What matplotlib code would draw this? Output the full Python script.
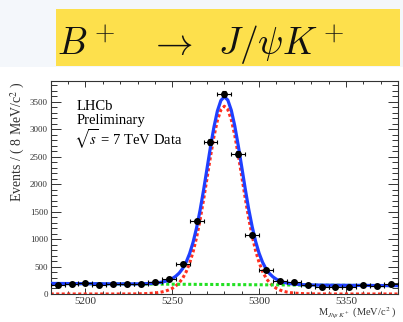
import numpy as np
import matplotlib.pyplot as plt
from matplotlib.patches import Rectangle

# B+ -> J/psi K+ mass spectrum, 8 MeV bins
bin_centres = [5184, 5192, 5200, 5208, 5216, 5224, 5232, 5240, 5248, 5256,
               5264, 5272, 5280, 5288, 5296, 5304, 5312, 5320, 5328, 5336,
               5344, 5352, 5360, 5368, 5376]
counts = [170, 183, 194, 157, 183, 178, 178, 212, 265, 549,
          1328, 2762, 3646, 2548, 1079, 444, 230, 222, 165, 134,
          134, 134, 170, 141, 183]

# fit components
curve_mass = [5180, 5190, 5200, 5210, 5220, 5230, 5236,
              5240, 5242, 5244, 5246, 5248, 5250, 5252, 5254, 5256, 5258,
              5260, 5262, 5264, 5266, 5268, 5270, 5272, 5274, 5276, 5278,
              5280, 5282, 5284, 5286, 5288, 5290, 5292, 5294, 5296, 5298,
              5300, 5302, 5304, 5306, 5308, 5310, 5312, 5314, 5316, 5318,
              5320, 5324, 5330, 5340, 5350, 5360, 5370, 5380]
signal = [0, 0, 0, 0, 0, 2, 8,
          18, 26, 37, 52, 74, 103, 145, 204, 287, 403,
          560, 767, 1029, 1346, 1711, 2105, 2502, 2866, 3161, 3353,
          3420, 3360, 3175, 2890, 2535, 2145, 1750, 1380, 1060, 790,
          575, 410, 290, 205, 145, 102, 72, 50, 35, 25,
          17, 8, 2, 0, 0, 0, 0, 0]
background = [192, 190, 188, 186, 184, 182, 181,
              180, 180, 179, 179, 178, 178, 178, 177, 177, 176,
              176, 176, 175, 175, 174, 174, 174, 173, 173, 172,
              172, 172, 171, 171, 170, 170, 170, 169, 169, 168,
              168, 168, 167, 167, 166, 166, 166, 165, 165, 164,
              164, 163, 162, 160, 158, 156, 154, 152]

x_ticks = [5200, 5250, 5300, 5350]
y_ticks = [0, 500, 1000, 1500, 2000, 2500, 3000, 3500]

SERIF = "Liberation Serif"

fig = plt.figure(figsize=(4.03, 3.22), dpi=100, facecolor="white")

# title banner
fig.patches.append(Rectangle((0, 0.793), 1, 0.207, transform=fig.transFigure,
                             facecolor="#f4f7fb", edgecolor="none", zorder=0))
fig.patches.append(Rectangle((0.139, 0.796), 0.854, 0.175, transform=fig.transFigure,
                             facecolor="#fde04c", edgecolor="none", zorder=1))
fig.text(0.142, 0.829, r"$B^+\;\;\;\rightarrow\;\;J/\psi K^+$",
         fontsize=27, math_fontfamily="cm", ha="left", va="baseline", color="#111111")

ax = fig.add_axes([0.1258, 0.0870, 0.8618, 0.6615])

total = np.array(signal) + np.array(background)
ax.plot(curve_mass, signal, color="#ff3020", lw=2.2, linestyle=(0, (1, 0.8)), zorder=2)
ax.plot(curve_mass, background, color="#22e022", lw=2.2, linestyle=(0, (1, 0.8)), zorder=2)
ax.plot(curve_mass, total, color="#1f3fff", lw=2.3, zorder=3)

ax.errorbar(bin_centres, counts, xerr=4, yerr=np.sqrt(counts), fmt="o",
            color="black", markersize=4, elinewidth=0.8, capsize=1.5,
            capthick=0.8, zorder=4)

ax.set_xlim(5180, 5380)
ax.set_ylim(0, 3880)
ax.set_xticks(x_ticks)
ax.set_xticks(range(5180, 5381, 10), minor=True)
ax.set_yticks(y_ticks)
ax.set_yticks(range(0, 3881, 100), minor=True)

for s in ax.spines.values():
    s.set_color("#333333")
    s.set_linewidth(0.8)

ax.tick_params(axis="both", which="both", direction="in", top=True, right=True,
               color="#333333", width=0.7)
ax.tick_params(axis="x", which="major", length=4.5, labelsize=8, pad=2)
ax.tick_params(axis="x", which="minor", length=2.5)
ax.tick_params(axis="y", which="major", length=7.5, labelsize=6.5, pad=2)
ax.tick_params(axis="y", which="minor", length=4)
for lab in ax.get_xticklabels() + ax.get_yticklabels():
    lab.set_fontfamily(SERIF)
    lab.set_color("#333333")

ax.set_xlabel(r"M$_{J/\psi\ K^+}$ (MeV/c$^2$ )", fontfamily=SERIF,
              math_fontfamily="stix", fontsize=7.5, color="#333333",
              ha="right", va="baseline")
ax.xaxis.set_label_coords(0.995, -0.103)
ax.set_ylabel(r"Events / ( 8 MeV/c$^2$ )", fontfamily=SERIF,
              math_fontfamily="stix", fontsize=10, color="#333333",
              ha="right", va="center")
ax.yaxis.set_label_coords(-0.093, 1.0)

ax.text(0.075, 0.864, "LHCb", transform=ax.transAxes, fontfamily=SERIF,
        fontsize=10.5, va="baseline")
ax.text(0.075, 0.798, "Preliminary", transform=ax.transAxes, fontfamily=SERIF,
        fontsize=10.5, va="baseline")
ax.text(0.068, 0.70, r"$\sqrt{s}$ = 7 TeV Data", transform=ax.transAxes,
        fontfamily=SERIF, math_fontfamily="stix", fontsize=10.5, va="baseline")

fig.savefig("out.png", dpi=100)
